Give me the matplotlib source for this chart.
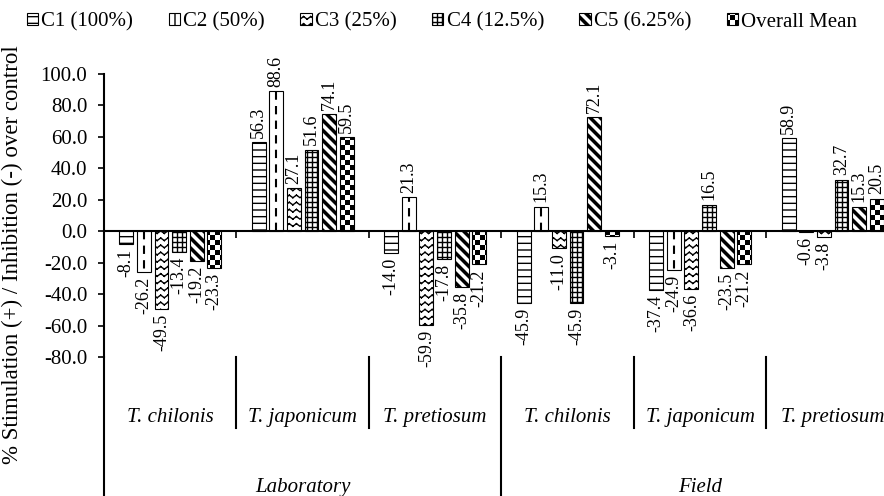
import numpy as np
import matplotlib
matplotlib.use('Agg')
import matplotlib.pyplot as plt
import matplotlib.hatch as mhatch
from matplotlib.path import Path
from matplotlib.patches import Patch
from matplotlib.transforms import blended_transform_factory

# data
species = ['T. chilonis', 'T. japonicum', 'T. pretiosum',
           'T. chilonis', 'T. japonicum', 'T. pretiosum']
settings = ['Laboratory', 'Field']
series = ['C1 (100%)', 'C2 (50%)', 'C3 (25%)', 'C4 (12.5%)', 'C5 (6.25%)', 'Overall Mean']
c1 = [-8.1, 56.3, -14.0, -45.9, -37.4, 58.9]
c2 = [-26.2, 88.6, 21.3, 15.3, -24.9, -0.6]
c3 = [-49.5, 27.1, -59.9, -11.0, -36.6, -3.8]
c4 = [-13.4, 51.6, -17.8, -45.9, 16.5, 32.7]
c5 = [-19.2, 74.1, -35.8, 72.1, -23.5, 15.3]
mean = [-23.3, 59.5, -21.2, -3.1, -21.2, 20.5]
values = [c1, c2, c3, c4, c5, mean]
yticks = [-80, -60, -40, -20, 0, 20, 40, 60, 80, 100]

plt.rcParams['font.family'] = ['Liberation Serif', 'DejaVu Serif']
plt.rcParams['hatch.linewidth'] = 1.0
plt.rcParams['hatch.color'] = 'black'
plt.rcParams['axes.unicode_minus'] = False

# ---- excel-like fill patterns (one hatch tile = 1 inch = 100 px) ----
S = 1.0 / 72 / 2  # half of hatch stroke, in tile units


def hlines(n):
    v, c = [], []
    for k in range(n):
        y = (k + 0.5) / n
        v += [(0, y), (1, y)]
        c += [Path.MOVETO, Path.LINETO]
    return v, c


def vlines(n):
    v, c = [], []
    for k in range(n):
        x = (k + 0.5) / n
        v += [(x, 0), (x, 1)]
        c += [Path.MOVETO, Path.LINETO]
    return v, c


def zigzag(rows, per, amp):
    v, c = [], []
    xs = np.linspace(0, 1, 2 * per + 1)
    for k in range(rows):
        y = (k + 0.5) / rows
        ys = y + amp * np.where(np.arange(len(xs)) % 2 == 0, -1, 1)
        for i in range(len(xs) - 1):
            v += [(xs[i], ys[i]), (xs[i + 1], ys[i + 1])]
            c += [Path.MOVETO, Path.LINETO]
    return v, c


def bands(n, frac):
    v, c = [], []
    d = S * np.sqrt(2)
    for k in range(-1, 2 * n + 1):
        a = k / n + d
        b = k / n + frac / n - d
        v += [(-0.1, a + 0.1), (1.1, a - 1.1), (1.1, b - 1.1), (-0.1, b + 0.1), (0, 0)]
        c += [Path.MOVETO, Path.LINETO, Path.LINETO, Path.LINETO, Path.CLOSEPOLY]
    return v, c


def checker(n):
    v, c = [], []
    for i in range(n):
        for j in range(n):
            if (i + j) % 2 == 0:
                x0, x1 = i / n + S, (i + 1) / n - S
                y0, y1 = j / n + S, (j + 1) / n - S
                v += [(x0, y0), (x1, y0), (x1, y1), (x0, y1), (0, 0)]
                c += [Path.MOVETO, Path.LINETO, Path.LINETO, Path.LINETO, Path.CLOSEPOLY]
    return v, c


def make_hatch(char, vc):
    verts, codes = np.array(vc[0], float), np.array(vc[1], Path.code_type)

    class _Tile(mhatch.HatchPatternBase):
        def __init__(self, hatch, density):
            self.num_vertices = len(codes) if char in hatch else 0

        def set_vertices_and_codes(self, vertices, cds):
            vertices[:] = verts
            cds[:] = codes
    return _Tile


g = vlines(20)
grid = (hlines(20)[0] + g[0], hlines(20)[1] + g[1])
mhatch._hatch_types = [
    make_hatch('-', hlines(15)),
    make_hatch('|', vlines(10)),
    make_hatch('o', zigzag(14, 14, 0.013)),
    make_hatch('+', grid),
    make_hatch('\\', bands(10, 0.5)),
    make_hatch('*', checker(20)),
]
hatches = ['-', '', 'o', '+', '\\', '*']
legend_hatches = ['-', '|', 'o', '+', '\\', '*']

fig = plt.figure(figsize=(8.84, 4.96), dpi=100)
ax = fig.add_axes([0.1176, 0.2802, 0.8993, 0.5716])

x = np.arange(len(species))
step = 0.133
width = 0.104
for i, vals in enumerate(values):
    pos = x + (i - 2.5) * step
    ax.bar(pos, vals, width, facecolor='white', edgecolor='black',
           linewidth=0.8, hatch=hatches[i], zorder=2)
    if i == 1:
        ax.vlines(pos, 0, vals, colors='black', linewidth=1.5,
                  linestyles=(0, (4, 3)), zorder=3)
    for p, v in zip(pos, vals):
        ax.text(p, v + (3 if v >= 0 else -3), f'{v:.1f}', rotation=90,
                ha='center', va='bottom' if v >= 0 else 'top', fontsize=13)

ax.set_xlim(-0.5, 5.5)
ax.set_ylim(-80, 100)
ax.set_yticks(yticks)
ax.set_yticklabels([f'{t:.1f}' for t in yticks])
ax.set_xticks([0.5, 1.5, 2.5, 3.5, 4.5])
ax.set_xticklabels([])
ax.tick_params(axis='y', direction='out', length=4, width=1.2, labelsize=15, pad=8)
ax.tick_params(axis='x', direction='out', length=5, width=1.2)
ax.spines['top'].set_visible(False)
ax.spines['right'].set_visible(False)
ax.spines['bottom'].set_position(('data', 0))
ax.spines['bottom'].set_linewidth(1.5)
ax.spines['bottom'].set_zorder(4)
ax.spines['left'].set_linewidth(1.5)

# multi-level category axis below the plot
trans = blended_transform_factory(ax.transData, ax.transAxes)
ax.plot([0, 0], [0, -0.5], transform=ax.transAxes, color='black', lw=1.5, clip_on=False)
for b in [0.5, 1.5, 2.5, 3.5, 4.5]:
    depth = -0.5 if b == 2.5 else -0.25
    ax.plot([b, b], [0, depth], transform=trans, color='black', lw=1.5, clip_on=False)
for gi, name in enumerate(species):
    ax.text(gi, -0.212, name, transform=trans, ha='center', va='center',
            fontsize=15, style='italic')
for si, name in enumerate(settings):
    ax.text(1 + 3 * si, -0.459, name, transform=trans, ha='center', va='center',
            fontsize=15, style='italic')

fig.text(0.0136, 0.486, '% Stimulation (+) / Inhibition (-) over control',
         rotation=90, ha='center', va='center', fontsize=16.5)

handles = [Patch(facecolor='white', edgecolor='black', linewidth=0.8, hatch=h)
           for h in legend_hatches]
fig.legend(handles, series, loc='upper center', bbox_to_anchor=(0.5, 1.0),
           ncol=6, frameon=False, fontsize=15, handlelength=0.55, handleheight=0.5,
           handletextpad=0.15, columnspacing=1.7, borderaxespad=0.2)

fig.savefig('out.png', dpi=100)
